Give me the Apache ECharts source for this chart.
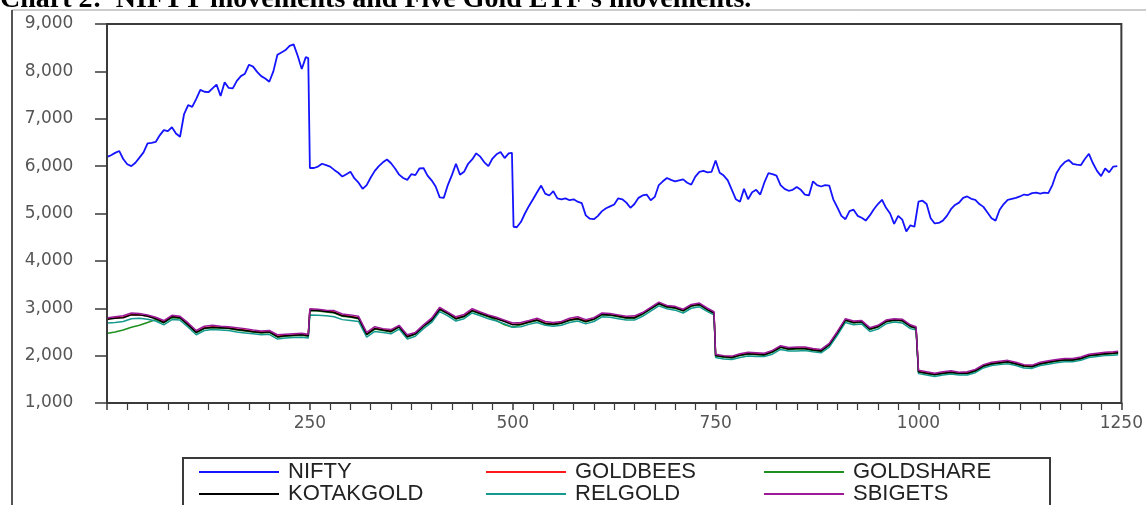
<!DOCTYPE html>
<html>
<head>
<meta charset="utf-8">
<script src="https://cdn.jsdelivr.net/npm/echarts@6/dist/echarts.min.js"></script>
<style>
  html, body { margin: 0; padding: 0; background: #fff; }
  #chart { width: 1146px; height: 505px; }
</style>
</head>
<body>
<div id="chart"></div>
<script>
// NIFTY, [day, index level]
const nifty = [
  [1,6200],[5,6230],[10,6280],[15,6320],[20,6150],[25,6040],[30,6000],[35,6070],[40,6180],[45,6290],
  [50,6480],[55,6490],[60,6510],[65,6650],[70,6760],[75,6740],[80,6820],[85,6690],[90,6620],[95,7100],
  [100,7290],[105,7250],[110,7420],[115,7610],[120,7570],[125,7560],[130,7640],[135,7720],[140,7480],[145,7770],
  [150,7650],[155,7640],[160,7800],[165,7900],[170,7950],[175,8140],[180,8100],[185,7990],[190,7900],[195,7850],
  [200,7780],[205,8000],[210,8350],[215,8400],[220,8450],[225,8540],[230,8570],[235,8330],[240,8050],[245,8300],
  [248,8280],[250,5960],[255,5960],[260,5990],[265,6050],[270,6020],[275,5990],[280,5920],[285,5860],[290,5780],
  [295,5830],[300,5880],[305,5740],[310,5650],[315,5520],[320,5600],[325,5760],[330,5900],[335,6000],[340,6080],
  [345,6140],[350,6060],[355,5950],[360,5820],[365,5750],[370,5710],[375,5830],[380,5810],[385,5950],[390,5960],
  [395,5800],[400,5700],[405,5570],[410,5340],[415,5330],[420,5600],[425,5810],[430,6050],[435,5820],[440,5880],
  [445,6050],[450,6140],[455,6270],[460,6200],[465,6080],[470,6000],[475,6160],[480,6250],[485,6300],[490,6170],
  [495,6270],[499,6280],[501,4720],[505,4710],[510,4820],[515,5000],[520,5160],[525,5300],[530,5450],[535,5590],
  [540,5420],[545,5380],[550,5470],[555,5320],[560,5300],[565,5320],[570,5280],[575,5300],[580,5250],[585,5220],
  [590,4960],[595,4890],[600,4880],[605,4950],[610,5050],[615,5110],[620,5150],[625,5190],[630,5320],[635,5300],
  [640,5230],[645,5120],[650,5200],[655,5330],[660,5380],[665,5400],[670,5280],[675,5350],[680,5600],[685,5680],
  [690,5750],[695,5710],[700,5680],[705,5700],[710,5720],[715,5650],[720,5610],[725,5780],[730,5880],[735,5900],
  [740,5870],[745,5880],[750,6120],[755,5860],[760,5800],[765,5700],[770,5500],[775,5300],[780,5250],[785,5520],
  [790,5300],[795,5450],[800,5500],[805,5400],[810,5650],[815,5850],[820,5830],[825,5800],[830,5600],[835,5520],
  [840,5480],[845,5500],[850,5560],[855,5500],[860,5400],[865,5380],[870,5680],[875,5600],[880,5570],[885,5600],
  [890,5590],[895,5300],[900,5130],[905,4950],[910,4880],[915,5050],[920,5080],[925,4950],[930,4910],[935,4850],
  [940,4960],[945,5090],[950,5200],[955,5290],[960,5120],[965,5000],[970,4780],[975,4950],[980,4870],[985,4620],
  [990,4750],[995,4720],[1000,5250],[1005,5270],[1010,5200],[1015,4900],[1020,4790],[1025,4800],[1030,4850],[1035,4950],
  [1040,5090],[1045,5180],[1050,5230],[1055,5330],[1060,5360],[1065,5310],[1070,5290],[1075,5200],[1080,5140],[1085,5020],
  [1090,4900],[1095,4850],[1100,5080],[1105,5200],[1110,5290],[1115,5310],[1120,5330],[1125,5360],[1130,5400],[1135,5390],
  [1140,5430],[1145,5440],[1150,5420],[1155,5440],[1160,5430],[1165,5600],[1170,5850],[1175,5990],[1180,6080],[1185,6130],
  [1190,6050],[1195,6030],[1200,6020],[1205,6150],[1210,6260],[1215,6060],[1220,5900],[1225,5790],[1230,5950],[1235,5870],
  [1240,5990],[1245,6000]
];

// trading days at which the five gold ETFs are read
const goldDays = [
  1,10,20,30,40,50,60,70,80,90,100,110,120,130,140,150,160,170,180,190,200,210,220,230,240,248,
  250,260,270,280,290,300,310,320,330,340,350,360,370,380,390,400,410,420,430,440,450,460,470,480,490,
  500,510,520,530,540,550,560,570,580,590,600,610,620,630,640,650,660,670,680,690,700,710,720,730,740,748,
  750,760,770,780,790,800,810,820,830,840,850,860,870,880,890,900,910,920,930,940,950,960,970,980,990,997,
  1000,1010,1020,1030,1040,1050,1060,1070,1080,1090,1100,1110,1120,1130,1140,1150,1160,1170,1180,1190,1200,1210,1220,1230,1240,1246
];

const goldbees = [
  2780,2800,2815,2870,2855,2840,2790,2710,2830,2810,2660,2495,2590,2610,2600,2590,2560,2540,2515,2500,2510,2410,2430,2435,2450,2430,
  2970,2960,2940,2920,2850,2830,2800,2460,2580,2550,2520,2620,2410,2470,2630,2760,2990,2900,2790,2840,2960,2900,2840,2790,2730,
  2660,2670,2720,2760,2690,2670,2700,2760,2790,2730,2780,2880,2870,2840,2810,2810,2890,3000,3110,3040,3020,2960,3060,3090,2980,2910,
  2010,1985,1970,2020,2050,2040,2030,2090,2190,2150,2160,2160,2130,2110,2240,2490,2760,2710,2725,2570,2620,2730,2760,2750,2630,2590,
  1670,1640,1610,1640,1660,1636,1636,1690,1790,1840,1860,1880,1840,1790,1780,1840,1870,1900,1920,1920,1950,2010,2030,2050,2060,2070
];

const goldshare = [
  2470,2500,2540,2600,2640,2700,2760,2690,2800,2790,2640,2480,2570,2590,2580,2570,2540,2520,2500,2480,2490,2390,2410,2420,2430,2410,
  2950,2940,2920,2900,2830,2810,2780,2440,2560,2530,2500,2600,2390,2450,2610,2740,2970,2880,2770,2820,2940,2880,2820,2740,2650,
  2600,2650,2700,2740,2670,2650,2680,2740,2770,2710,2760,2860,2850,2820,2790,2790,2870,2980,3090,3020,3000,2940,3040,3070,2960,2890,
  1990,1965,1950,2000,2030,2020,2010,2070,2170,2130,2140,2140,2110,2090,2220,2470,2740,2690,2705,2550,2600,2710,2740,2730,2610,2570,
  1650,1620,1590,1620,1640,1616,1616,1670,1770,1820,1840,1860,1820,1770,1760,1820,1850,1880,1900,1900,1930,1990,2010,2030,2040,2050
];

const kotakgold = [
  2770,2790,2800,2860,2860,2830,2780,2700,2820,2800,2650,2490,2580,2600,2590,2580,2550,2530,2505,2490,2500,2400,2420,2430,2440,2420,
  2960,2950,2930,2910,2840,2820,2790,2450,2570,2540,2510,2610,2400,2460,2620,2750,2980,2890,2780,2830,2950,2890,2830,2780,2720,
  2650,2660,2710,2750,2680,2660,2690,2750,2780,2720,2770,2870,2860,2830,2800,2800,2880,2990,3100,3030,3010,2950,3050,3080,2970,2900,
  2000,1975,1960,2010,2040,2030,2020,2080,2180,2140,2150,2150,2120,2100,2230,2480,2750,2700,2715,2560,2610,2720,2750,2740,2620,2580,
  1660,1630,1600,1630,1650,1626,1626,1680,1780,1830,1850,1870,1830,1780,1770,1830,1860,1890,1910,1910,1940,2000,2020,2040,2050,2060
];

const relgold = [
  2690,2700,2720,2780,2790,2770,2730,2650,2760,2750,2600,2440,2530,2550,2540,2530,2500,2480,2460,2440,2450,2350,2370,2380,2390,2370,
  2860,2850,2840,2820,2760,2740,2720,2390,2510,2490,2460,2560,2350,2410,2570,2700,2930,2840,2730,2780,2900,2840,2780,2730,2670,
  2600,2610,2660,2700,2640,2620,2640,2700,2730,2670,2720,2820,2810,2780,2750,2750,2830,2940,3050,2990,2960,2900,3000,3030,2930,2860,
  1960,1930,1920,1960,1990,1980,1980,2030,2130,2100,2100,2110,2080,2060,2180,2430,2700,2650,2670,2510,2560,2670,2710,2690,2570,2540,
  1620,1590,1560,1590,1610,1590,1590,1640,1740,1790,1810,1830,1790,1740,1730,1790,1820,1850,1870,1870,1900,1960,1980,2000,2010,2020
];

const sbigets = [
  2800,2820,2840,2900,2890,2860,2810,2740,2850,2830,2690,2530,2620,2640,2620,2610,2590,2570,2540,2520,2530,2440,2450,2460,2470,2450,
  2990,2980,2960,2950,2880,2860,2830,2490,2610,2570,2550,2640,2440,2490,2650,2790,3020,2920,2820,2870,2990,2920,2860,2810,2750,
  2690,2700,2740,2790,2720,2700,2720,2790,2820,2760,2800,2900,2890,2860,2830,2840,2910,3020,3130,3060,3040,2980,3080,3110,3000,2930,
  2030,2000,1990,2040,2070,2060,2050,2110,2210,2170,2180,2180,2150,2130,2260,2510,2780,2730,2740,2590,2640,2750,2780,2770,2650,2610,
  1690,1660,1630,1660,1680,1650,1660,1710,1810,1860,1880,1900,1860,1810,1800,1860,1890,1920,1940,1940,1970,2030,2050,2070,2080,2090
];

const xTicks = { min: 0, max: 1250, interval: 250 };
const yTicks = { min: 1000, max: 9000, interval: 1000 };

const goldSeries = [
  { name: 'GOLDBEES', color: '#ff1a1a', values: goldbees },
  { name: 'GOLDSHARE', color: '#1f8f1f', values: goldshare },
  { name: 'RELGOLD', color: '#159a90', values: relgold },
  { name: 'KOTAKGOLD', color: '#000000', values: kotakgold },
  { name: 'SBIGETS', color: '#9a1a9a', values: sbigets }
];

// legend slots: 3 columns x 2 rows, as in the original figure
const legendSlots = [
  ['NIFTY', 199, 461], ['GOLDBEES', 486, 461], ['GOLDSHARE', 764, 461],
  ['KOTAKGOLD', 199, 483], ['RELGOLD', 486, 483], ['SBIGETS', 764, 483]
];

const chart = echarts.init(document.getElementById('chart'));

const option = {
  animation: false,
  backgroundColor: '#fff',
  grid: {
    left: 107, right: 22, top: 24, bottom: 102,
    show: true, borderColor: '#3a3a3a', borderWidth: 2
  },
  xAxis: {
    type: 'value',
    min: xTicks.min, max: xTicks.max, interval: xTicks.interval,
    axisLine: { show: true, lineStyle: { color: '#3a3a3a', width: 2 } },
    axisTick: { show: true, length: 7, lineStyle: { color: '#3a3a3a', width: 1.5 } },
    minorTick: { show: true, splitNumber: 10, length: 7, lineStyle: { color: '#3a3a3a', width: 1.2 } },
    splitLine: { show: false },
    axisLabel: {
      showMinLabel: false, margin: 12,
      fontFamily: 'DejaVu Sans', fontSize: 17, color: '#555',
      formatter: v => String(v)
    }
  },
  yAxis: {
    type: 'value',
    min: yTicks.min, max: yTicks.max, interval: yTicks.interval,
    axisLine: { show: true, lineStyle: { color: '#3a3a3a', width: 2 } },
    axisTick: { show: true, length: 12, lineStyle: { color: '#3a3a3a', width: 1.5 } },
    splitLine: { show: false },
    axisLabel: {
      margin: 58, align: 'center',
      fontFamily: 'DejaVu Sans', fontSize: 17, color: '#555',
      formatter: v => v.toLocaleString('en-US')
    }
  },
  legend: legendSlots.map(([name, left, top]) => ({
    left: left, top: top,
    padding: 0,
    itemWidth: 80,
    itemHeight: 2,
    icon: 'rect',
    selectedMode: false,
    data: [name],
    textStyle: { fontFamily: 'Liberation Sans', fontSize: 22, color: '#222', padding: [0, 0, 0, 4] }
  })),
  graphic: [
    {
      type: 'text', left: 0, top: -14, silent: true,
      style: {
        text: "Chart 2:  NIFTY movements and Five Gold ETF's movements.",
        font: 'bold 28px "Liberation Serif"', fill: '#000'
      }
    },
    { type: 'line', silent: true, shape: { x1: 12, y1: 10, x2: 1146, y2: 10 }, style: { stroke: '#9a9a9a', lineWidth: 1 } },
    { type: 'line', silent: true, shape: { x1: 12, y1: 10, x2: 12, y2: 505 }, style: { stroke: '#555', lineWidth: 2 } },
    { type: 'rect', silent: true, shape: { x: 183, y: 458, width: 867, height: 60 }, style: { fill: 'none', stroke: '#3a3a3a', lineWidth: 2 } }
  ],
  series: [
    {
      name: 'NIFTY', type: 'line', data: nifty, symbol: 'none',
      color: '#1414ff', lineStyle: { width: 1.8, color: '#1414ff' }
    }
  ].concat(goldSeries.map(s => ({
    name: s.name, type: 'line', symbol: 'none',
    data: goldDays.map((d, i) => [d, s.values[i]]),
    color: s.color, lineStyle: { width: 1.5, color: s.color }
  })))
};

chart.setOption(option);
</script>
</body>
</html>
